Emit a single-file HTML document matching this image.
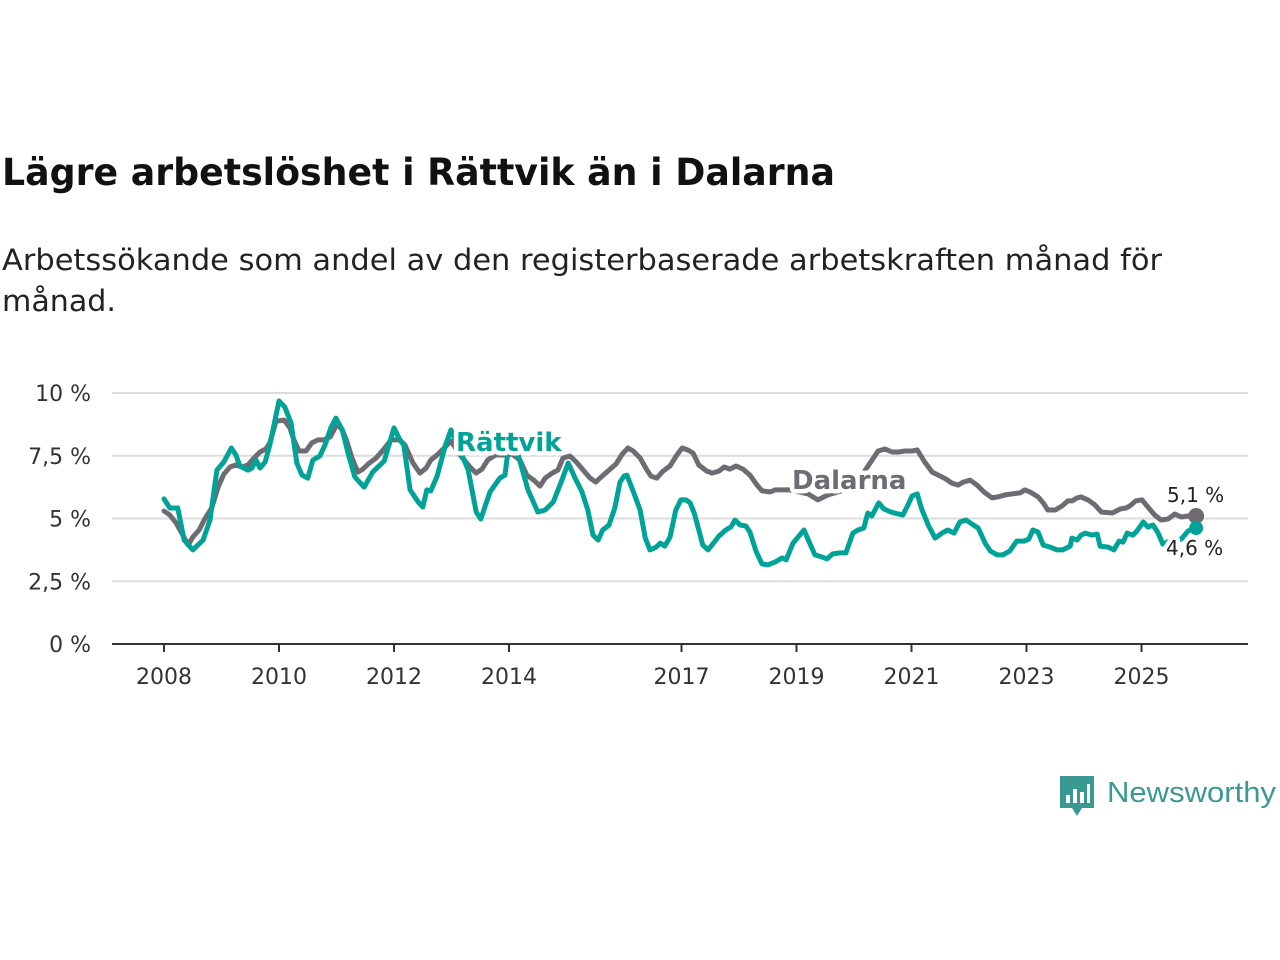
<!DOCTYPE html>
<html><head><meta charset="utf-8"><style>
html,body{margin:0;padding:0;background:#fff;}
svg{display:block;font-family:"DejaVu Sans","Liberation Sans",sans-serif;}
.lbl{paint-order:stroke;stroke:#fff;stroke-width:9px;stroke-linejoin:round;}
</style></head><body>
<svg id="chart" width="1280" height="960" viewBox="0 0 1280 960">
<text x="2" y="185" font-size="37" font-weight="bold" fill="#111" textLength="833" lengthAdjust="spacingAndGlyphs">Lägre arbetslöshet i Rättvik än i Dalarna</text>
<text x="2" y="270" font-size="29" fill="#222" textLength="1160" lengthAdjust="spacingAndGlyphs">Arbetssökande som andel av den registerbaserade arbetskraften månad för</text>
<text x="2" y="311" font-size="29" fill="#222" textLength="114" lengthAdjust="spacingAndGlyphs">månad.</text>
<g id="grid"></g><g id="axes"></g><g id="series"></g><g id="labels"></g>
<g>
<path d="M1060 776 h34 v32 h-12 l-5 8 l-5 -8 h-12 z" fill="#3a9a91"/>
<rect x="1066" y="795" width="4" height="8" fill="#fff"/><rect x="1073" y="789" width="4" height="14" fill="#fff"/><rect x="1080" y="792" width="4" height="11" fill="#fff"/><rect x="1087" y="784" width="3" height="19" fill="#fff"/>
<text x="1107" y="802" font-size="29" fill="#3a9a91" font-family="Liberation Sans, sans-serif" textLength="169" lengthAdjust="spacingAndGlyphs">Newsworthy</text>
</g>
</svg>
<script>
const yTicks=[0,2.5,5,7.5,10];
const yTickLabels=["0 %","2,5 %","5 %","7,5 %","10 %"];
const xTicks=[2008,2010,2012,2014,2017,2019,2021,2023,2025];
const rattvikT=[0,.10,.24,.35,.50,.68,.80,.92,1.04,1.17,1.25,1.32,1.46,1.53,1.60,1.67,1.76,1.84,2.00,2.10,2.21,2.31,2.40,2.50,2.59,2.71,2.80,2.90,2.99,3.10,3.20,3.32,3.48,3.63,3.83,4.00,4.10,4.17,4.28,4.42,4.50,4.57,4.64,4.75,4.89,4.99,5.11,5.29,5.43,5.51,5.67,5.84,5.93,6.00,6.16,6.33,6.50,6.63,6.77,6.92,7.03,7.15,7.27,7.37,7.46,7.55,7.63,7.74,7.84,7.93,8.00,8.05,8.17,8.28,8.37,8.45,8.56,8.63,8.71,8.80,8.90,8.99,9.08,9.15,9.22,9.30,9.37,9.46,9.57,9.65,9.77,9.86,9.93,10.02,10.12,10.19,10.30,10.40,10.50,10.63,10.75,10.82,10.94,11.13,11.23,11.32,11.44,11.53,11.63,11.76,11.86,11.98,12.07,12.17,12.24,12.31,12.43,12.52,12.64,12.77,12.85,12.94,13.01,13.10,13.17,13.29,13.41,13.53,13.63,13.74,13.84,13.95,14.05,14.16,14.28,14.37,14.49,14.59,14.71,14.83,14.96,15.04,15.11,15.20,15.29,15.41,15.53,15.63,15.76,15.79,15.88,15.95,16.02,16.14,16.23,16.28,16.42,16.52,16.61,16.68,16.75,16.85,16.92,17.03,17.11,17.20,17.29,17.37,17.53,17.69,17.81,17.95];
const rattvikV=[5.78,5.42,5.42,4.14,3.75,4.14,4.94,6.93,7.25,7.81,7.53,7.09,6.93,7.01,7.33,7.01,7.25,7.93,9.68,9.44,8.80,7.21,6.73,6.61,7.33,7.49,7.93,8.61,9.00,8.53,7.61,6.65,6.25,6.85,7.29,8.61,8.13,7.93,6.14,5.66,5.46,6.14,6.10,6.69,7.89,8.53,7.93,6.93,5.26,4.98,6.06,6.61,6.73,8.01,7.53,6.14,5.26,5.34,5.66,6.53,7.21,6.61,6.06,5.34,4.34,4.14,4.54,4.74,5.42,6.45,6.69,6.73,6.02,5.34,4.22,3.75,3.86,4.02,3.90,4.26,5.34,5.74,5.74,5.62,5.22,4.54,3.94,3.75,4.06,4.30,4.54,4.66,4.94,4.74,4.70,4.46,3.67,3.19,3.15,3.27,3.43,3.35,4.02,4.54,4.02,3.55,3.47,3.39,3.59,3.63,3.63,4.42,4.54,4.62,5.22,5.10,5.62,5.38,5.26,5.18,5.14,5.54,5.90,5.98,5.42,4.74,4.22,4.42,4.54,4.42,4.86,4.94,4.78,4.62,4.02,3.71,3.55,3.55,3.71,4.10,4.10,4.18,4.54,4.46,3.94,3.86,3.75,3.75,3.90,4.22,4.14,4.34,4.42,4.34,4.38,3.90,3.86,3.75,4.10,4.06,4.42,4.34,4.50,4.86,4.66,4.74,4.42,3.98,4.14,4.18,4.50,4.62];
const dalarnaT=[0,.10,.21,.31,.42,.50,.61,.71,.83,.94,1.04,1.15,1.25,1.36,1.46,1.55,1.67,1.77,1.84,1.95,2.09,2.19,2.26,2.35,2.47,2.57,2.68,2.78,2.89,3.01,3.10,3.17,3.27,3.37,3.46,3.55,3.69,3.81,3.95,4.10,4.19,4.33,4.45,4.56,4.64,4.75,4.89,4.99,5.15,5.32,5.43,5.53,5.63,5.76,5.93,6.05,6.19,6.31,6.43,6.54,6.63,6.75,6.85,6.94,7.06,7.17,7.29,7.41,7.51,7.62,7.74,7.86,7.97,8.07,8.16,8.28,8.40,8.47,8.57,8.68,8.80,8.92,9.01,9.11,9.20,9.30,9.44,9.53,9.65,9.74,9.84,9.95,10.07,10.19,10.30,10.40,10.54,10.63,10.75,10.89,11.20,11.37,11.55,11.84,12.10,12.28,12.42,12.54,12.66,12.77,12.89,13.01,13.10,13.23,13.36,13.50,13.60,13.70,13.81,13.90,14.02,14.14,14.26,14.40,14.50,14.63,14.75,14.89,14.97,15.06,15.20,15.29,15.37,15.50,15.62,15.72,15.79,15.88,15.95,16.07,16.19,16.30,16.49,16.63,16.73,16.80,16.90,17.01,17.11,17.23,17.34,17.46,17.58,17.69,17.81,17.95];
const dalarnaV=[5.30,5.14,4.82,4.42,3.94,4.26,4.54,4.98,5.42,6.25,6.77,7.05,7.13,7.05,7.13,7.37,7.65,7.77,8.01,8.88,8.92,8.61,8.13,7.69,7.69,8.01,8.13,8.13,8.25,8.76,8.53,8.13,7.41,6.85,6.97,7.17,7.41,7.73,8.13,8.13,7.93,7.21,6.81,7.01,7.33,7.53,7.85,8.09,7.53,7.05,6.81,6.97,7.33,7.53,7.53,7.57,7.33,6.73,6.53,6.29,6.61,6.81,6.93,7.41,7.49,7.25,6.93,6.61,6.45,6.69,6.93,7.17,7.57,7.81,7.69,7.41,6.93,6.69,6.61,6.89,7.09,7.53,7.81,7.73,7.61,7.13,6.89,6.81,6.89,7.05,6.97,7.09,6.97,6.73,6.37,6.10,6.06,6.14,6.14,6.14,5.98,5.74,5.94,6.14,6.61,7.21,7.69,7.77,7.65,7.65,7.69,7.69,7.73,7.25,6.85,6.69,6.57,6.41,6.33,6.45,6.53,6.33,6.06,5.82,5.86,5.94,5.98,6.02,6.14,6.06,5.86,5.62,5.34,5.34,5.50,5.70,5.70,5.82,5.86,5.74,5.54,5.26,5.22,5.38,5.42,5.50,5.70,5.74,5.46,5.14,4.94,4.98,5.18,5.06,5.10,5.10];
const baseYear=2008;
const NS="http://www.w3.org/2000/svg";
const X0=164,PXY=57.5,Y0=644,PXV=25.1;
function xs(t){return X0+t*PXY;}
function xYear(y){return xs(y-baseYear);}
function ys(v){return Y0-v*PXV;}
function mk(tag,attrs,parent){const e=document.createElementNS(NS,tag);for(const k in attrs)e.setAttribute(k,attrs[k]);parent.appendChild(e);return e;}
const grid=document.getElementById('grid'),axes=document.getElementById('axes'),series=document.getElementById('series'),labels=document.getElementById('labels');
yTicks.forEach((v,i)=>{
 if(v>0){const g=mk('line',{x1:112,x2:1248,y1:ys(v),y2:ys(v),stroke:'#dcdcdc','stroke-width':2},grid);
 
 }
 const t=mk('text',{x:91,y:ys(v)+8,'text-anchor':'end','font-size':22,fill:'#333'},axes);
 
 
 t.textContent=yTickLabels[i];
});
const ax=mk('line',{x1:112,x2:1248,y1:Y0,y2:Y0,stroke:'#333','stroke-width':2},axes);


xTicks.forEach(y=>{
 const tk=mk('line',{x1:xYear(y),x2:xYear(y),y1:Y0,y2:Y0+8,stroke:'#333','stroke-width':2},axes);
 
 
 const t=mk('text',{x:xYear(y),y:684,'text-anchor':'middle','font-size':22,fill:'#333'},axes);
 
 
 t.textContent=y;
});
function line(T,V,color,name){
 const d=T.map((t,i)=>(i?'L':'M')+xs(t).toFixed(1)+' '+ys(V[i]).toFixed(1)).join(' ');
 const p=mk('path',{d:d,fill:'none',stroke:color,'stroke-width':5,'stroke-linejoin':'round','stroke-linecap':'round'},series);
 
 
}
line(dalarnaT,dalarnaV,'#6e6b72','dalarna-line');
line(rattvikT,rattvikV,'#00a396','rattvik-line');
const ld=dalarnaT.length-1,lr=rattvikT.length-1;
const d1=mk('circle',{cx:xs(dalarnaT[ld]),cy:ys(dalarnaV[ld]),r:8,fill:'#6e6b72'},series);


const d2=mk('circle',{cx:xs(rattvikT[lr]),cy:ys(rattvikV[lr]),r:7,fill:'#00a396'},series);


function lab(x,y,txt,size,color,bold,name){
 const t=mk('text',{x:x,y:y,'font-size':size,fill:color,'font-weight':bold?'bold':'normal',class:'lbl'},labels);
 
 
 t.textContent=txt;
}
lab(456,451,'Rättvik',26,'#00a396',true,'rattvik-series-label');
lab(792,489,'Dalarna',26,'#6e6b72',true,'dalarna-series-label');
lab(1167,502,'5,1 %',20,'#222',false,'dalarna-end-value');
lab(1166,555,'4,6 %',20,'#222',false,'rattvik-end-value');
</script>
</body></html>
